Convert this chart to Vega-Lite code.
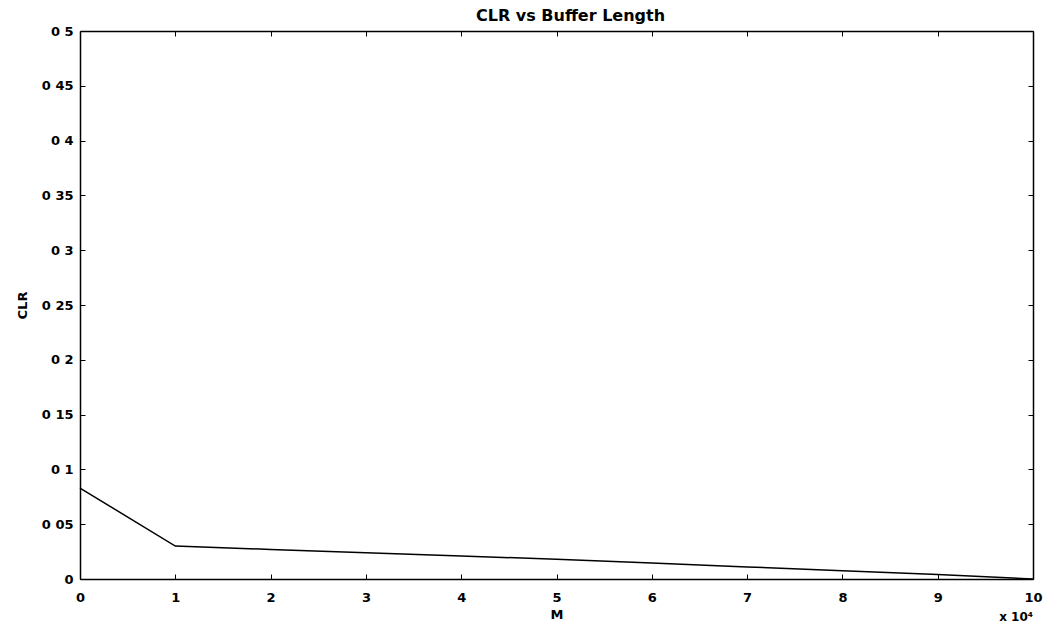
{
  "$schema": "https://vega.github.io/schema/vega-lite/v6.json",
  "width": 953,
  "height": 548,
  "autosize": {"type": "none"},
  "padding": {"left": 80, "top": 31, "right": 19, "bottom": 50},
  "background": "white",
  "title": {"text": "CLR vs  Buffer Length", "font": "DejaVu Sans", "fontSize": 16, "fontWeight": "bold", "color": "black", "offset": 1, "dx": 14},
  "config": {
    "view": {"stroke": null},
    "axis": {
      "domainColor": "black", "domainWidth": 1.5, "tickColor": "black", "tickWidth": 1, "tickSize": -5,
      "labelFont": "DejaVu Sans", "labelFontSize": 13, "labelColor": "black", "labelFontWeight": "bold",
      "titleFont": "DejaVu Sans", "titleFontSize": 13, "titleColor": "black", "titleFontWeight": "bold",
      "grid": false
    }
  },
  "data": {"values": [
    {"M": 0, "CLR": 0.083},
    {"M": 10000, "CLR": 0.030},
    {"M": 20000, "CLR": 0.027},
    {"M": 30000, "CLR": 0.024},
    {"M": 40000, "CLR": 0.021},
    {"M": 50000, "CLR": 0.018},
    {"M": 60000, "CLR": 0.0145},
    {"M": 70000, "CLR": 0.011},
    {"M": 80000, "CLR": 0.0075},
    {"M": 90000, "CLR": 0.004},
    {"M": 100000, "CLR": 0.0}
  ]},
  "layer": [
    {
      "mark": {"type": "line", "color": "black", "strokeWidth": 1.5},
      "encoding": {
        "x": {"field": "M", "type": "quantitative", "scale": {"domain": [0, 100000], "nice": false},
              "axis": {"orient": "bottom", "title": "M", "values": [0,10000,20000,30000,40000,50000,60000,70000,80000,90000,100000],
                       "labelExpr": "format(datum.value / 10000, 'd')", "labelPadding": 17, "titlePadding": 4, "labelFlush": false}},
        "y": {"field": "CLR", "type": "quantitative", "scale": {"domain": [0, 0.5], "nice": false},
              "axis": {"orient": "left", "title": "CLR", "values": [0,0.05,0.1,0.15,0.2,0.25,0.3,0.35,0.4,0.45,0.5],
                       "labelExpr": "replace(format(datum.value, '.2~f'), '.', ' ')", "labelPadding": 12, "titlePadding": 12, "labelFlush": false}}
      }
    },
    {
      "mark": {"type": "line", "opacity": 0},
      "encoding": {
        "x": {"field": "M", "type": "quantitative",
              "axis": {"orient": "top", "title": null, "labels": false, "values": [0,10000,20000,30000,40000,50000,60000,70000,80000,90000,100000]}},
        "y": {"field": "CLR", "type": "quantitative",
              "axis": {"orient": "right", "title": null, "labels": false, "values": [0,0.05,0.1,0.15,0.2,0.25,0.3,0.35,0.4,0.45,0.5]}}
      }
    },
    {
      "data": {"values": [{"M": 100000, "CLR": 0, "note": "x 10⁴"}]},
      "mark": {"type": "text", "align": "right", "baseline": "middle", "dx": 0, "dy": 38, "font": "DejaVu Sans", "fontSize": 12, "fontWeight": "bold", "color": "black"},
      "encoding": {
        "x": {"field": "M", "type": "quantitative", "axis": null},
        "y": {"field": "CLR", "type": "quantitative", "axis": null},
        "text": {"field": "note"}
      }
    }
  ],
  "resolve": {"axis": {"x": "independent", "y": "independent"}}
}
